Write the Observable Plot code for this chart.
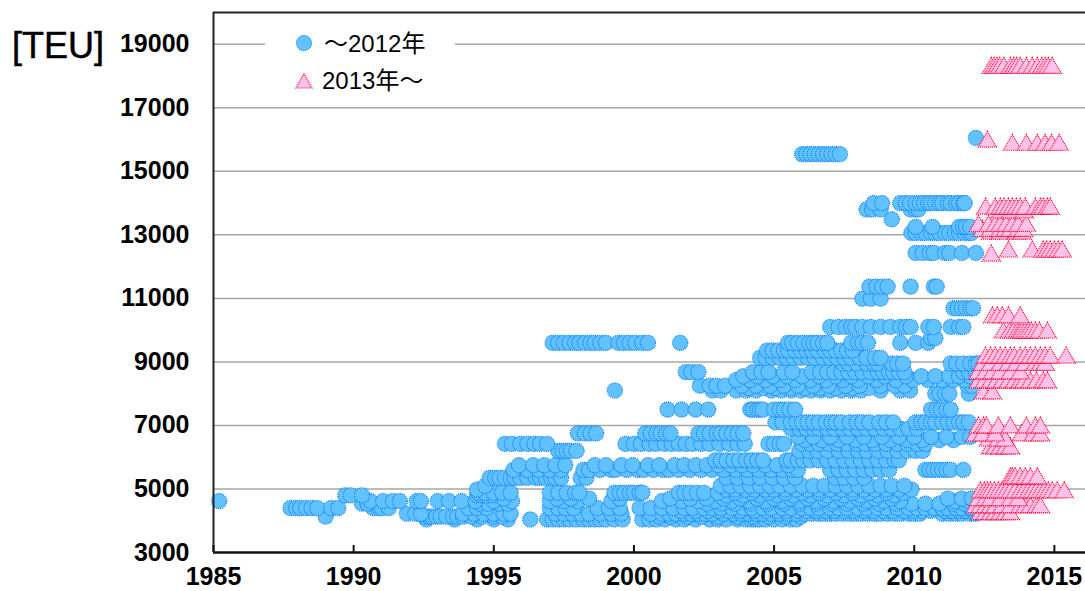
<!DOCTYPE html>
<html><head><meta charset="utf-8">
<script src="https://cdn.jsdelivr.net/npm/d3@7"></script>
<script src="https://cdn.jsdelivr.net/npm/@observablehq/plot@0.6"></script>
<style>
html,body{margin:0;padding:0;background:#fff;overflow:hidden}
#wrap{position:relative;width:1085px;height:591px;font-family:"Liberation Sans",Arial,sans-serif}
#unit{position:absolute;left:12px;top:26px;font-size:36px;line-height:40px;color:#000;-webkit-text-stroke:0.5px #000}
#legend{position:absolute;left:265px;top:28px;width:190px;height:72px;background:#fff;font-family:"Liberation Sans","Noto Sans CJK JP",sans-serif;font-size:24px;color:#000}
#legend div{position:absolute;white-space:nowrap;line-height:30px}
#legend svg{position:absolute;width:18px;height:18px}
</style></head><body>
<div id="wrap">
<div id="chart"></div>
<div id="unit">[TEU]</div>
<div id="legend">
<svg style="left:30px;top:6px"><circle cx="9" cy="9" r="7.6" fill="#62c1ff" stroke="#0a80ff" stroke-width="1.2" stroke-dasharray="1 1"/></svg>
<div style="left:59px;top:1px">〜2012年</div>
<svg style="left:30px;top:44px"><path d="M9 1.5 L17 16 L1 16 Z" fill="#ffc2e8" stroke="#ff0033" stroke-width="1.2" stroke-dasharray="1 1"/></svg>
<div style="left:57px;top:38px">2013年〜</div>
</div>
</div>
<script>
const xTicks = [1985,1990,1995,2000,2005,2010,2015];
const yTicks = [3000,5000,7000,9000,11000,13000,15000,17000,19000];

// ~2012: build year per TEU level
const c16050 = [2012.2];
const c15540 = [2006.0,2006.15,2006.3,2006.45,2006.6,2006.75,2006.9,2007.05,2007.2,2007.35];
const c14000 = [2008.55,2008.85,2009.5,2009.7,2009.85,2010.05,2010.2,2010.35,2010.5,2010.6,2010.75,2010.9,2011.0,2011.2,2011.3,2011.5,2011.6,2011.75,2011.8];
const c13800 = [2008.3,2008.5,2008.8,2009.87,2010.05,2010.15];
const c13490 = [2009.2];
const c13250 = [2010.05,2010.65,2011.6,2011.75,2011.85,2012.0];
const c13060 = [2009.9,2010.05,2010.25,2010.4,2010.6,2010.75,2010.9,2011.1,2011.25,2011.45,2011.6,2011.8,2011.95,2012.05];
const c12430 = [2010.05,2010.3,2010.55,2010.7,2011.1,2011.25,2011.7,2012.2];
const c11370 = [2008.4,2008.65,2008.85,2009.05,2009.87,2010.7,2010.8];
const c10990 = [2008.15,2008.45,2008.8];
const c10690 = [2011.4,2011.55,2011.7,2011.85,2012.0,2012.1];
const c10100 = [2007.0,2007.3,2007.55,2007.75,2007.9,2008.15,2008.45,2008.8,2009.15,2009.5,2009.7,2009.87,2010.5,2010.7,2011.3,2011.6,2011.75];
const c9750 = [2010.6,2010.75];
const c9600 = [1997.1,1997.3,1997.5,1997.7,1997.9,1998.05,1998.25,1998.45,1998.6,1998.8,1999.0,1999.45,1999.65,1999.85,2000.05,2000.3,2000.5,2001.65,2005.5,2005.65,2005.85,2006.05,2006.25,2006.4,2006.55,2006.75,2006.9,2007.75,2008.0,2008.15,2008.35,2009.5,2010.05,2010.5];
const c9360 = [2004.75,2004.95,2005.15,2005.35,2005.5,2005.75,2005.95,2006.15,2006.35,2006.55,2006.8,2007.0,2007.2,2007.4,2007.6,2007.8];
const c9130 = [2004.5,2004.7,2004.95,2005.2,2005.45,2005.7,2005.95,2006.2,2006.45,2006.75,2007,2007.25,2007.5,2007.75,2008.05,2008.3,2008.6,2008.8];
const c8950 = [2007.45,2007.65,2007.95,2008.3,2008.55,2008.7,2009.2,2009.4,2009.6,2011.3,2011.5,2011.75,2012.0,2012.2,2012.3];
const c8680 = [2001.85,2002.05,2002.3,2004.25,2004.55,2004.8,2005.35,2005.65,2006.35,2006.65,2006.9,2007.15,2007.4,2007.65,2007.9,2008.15,2008.45,2008.7,2008.9,2009.1,2009.25,2009.45,2009.65,2011.75,2011.95,2012.2];
const c8550 = [2003.9,2004.4,2004.95,2005.45,2006.0,2006.6,2007.2,2007.75,2008.35,2008.95,2009.7,2010.25,2010.75,2011.25,2011.6,2012.0];
const c8430 = [2003.65,2004.15,2004.7,2005.2,2005.75,2006.3,2006.85,2007.45,2008.0,2008.65,2009.35,2009.95,2010.5,2011.0,2011.4,2011.8];
const c8250 = [2002.35,2002.7,2002.95,2003.25,2003.85,2004.35,2004.85,2005.35,2005.85,2006.4,2006.95,2007.55,2008.05,2008.8,2009.3,2009.65,2011.9,2012.05];
const c8180 = [2004.1,2004.6,2005.05,2005.6,2006.1,2006.65,2007.2,2007.8,2008.4];
const c8100 = [1999.32,2002.8,2003.1,2003.65,2004.0,2004.35,2004.9,2005.25,2005.6,2005.95,2006.3,2006.65,2007.0,2007.4,2007.75,2008.1,2008.8,2009.5,2009.85];
const c8000 = [2010.75,2010.9,2011.1,2011.25,2011.95];
const c7500 = [2001.2,2001.7,2002.2,2002.65,2004.15,2004.25,2004.4,2004.5,2004.6,2005.0,2005.2,2005.35,2005.55,2005.75,2010.6,2010.8,2010.95,2011.15,2011.3];
const c7100 = [2005.05,2005.3,2005.6,2005.8,2006.0,2006.2,2006.4,2006.6,2006.85,2007.05,2007.2,2007.4,2007.7,2007.95,2008.15,2008.4,2008.75,2009,2009.25,2010.05,2010.25,2010.4,2010.6,2010.75,2011.0,2011.2,2011.4,2011.6,2011.75,2011.95];
const c6900 = [2005.6,2005.9,2006.15,2006.4,2006.6,2006.9,2007.15,2007.45,2007.7,2008,2008.3,2008.6,2008.9,2009.2,2009.5,2009.8,2010.1];
const c6750 = [1998.0,1998.25,1998.45,1998.65,2000.4,2000.6,2000.8,2000.95,2001.15,2001.3,2002.3,2002.5,2002.7,2002.95,2003.1,2003.3,2003.5,2003.7,2003.9];
const c6640 = [2005.85,2006.4,2007,2007.6,2008.2,2008.85,2009.45,2010,2010.6,2011.15,2011.7,2012.0];
const c6540 = [2006.1,2006.7,2007.3,2007.9,2008.5,2009.15,2009.75,2010.3,2010.9,2011.4];
const c6420 = [1995.4,1995.65,1995.95,1996.2,1996.45,1996.65,1996.9,1999.7,2000.0,2000.25,2000.55,2000.8,2001.1,2001.35,2001.6,2001.85,2002.1,2002.4,2002.7,2003.05,2003.4,2003.7,2003.95,2004.8,2005,2005.2,2005.35,2006,2006.3,2006.6,2006.95,2007.25,2007.6,2007.95,2008.25,2008.6,2009.0,2009.4,2009.75,2010.1,2010.4];
const c6200 = [1997.3,1997.45,1997.6,1997.75,1997.95,2005.9,2006.25,2006.55,2006.9,2007.3,2007.65,2008,2008.3,2008.7,2009.05,2009.4,2009.75,2010.05,2010.3];
const c5900 = [2002.9,2003.1,2003.3,2003.55,2003.75,2004.0,2004.2,2004.4,2004.6,2005.45,2005.6,2005.85,2006.05,2006.3,2006.6,2006.9,2007.2,2007.5,2007.8,2008.1,2008.4,2008.7,2009.0,2009.3,2009.45];
const c5750 = [1995.9,1996.4,1996.8,1997.2,1997.55,1998.6,1999,1999.55,1999.95,2000.5,2000.9,2001.45,2001.8,2002.2,2002.6,2003,2003.45,2003.85,2004.25,2004.7,2005.1,2005.5];
const c5600 = [1995.7,1996.2,1996.6,1997.0,1997.4,1998.2,1998.4,1998.8,1999.2,1999.35,1999.75,2000.15,2000.35,2000.7,2001.05,2001.25,2001.6,2002,2002.4,2002.8,2003.2,2003.65,2004.05,2004.45,2004.9,2005.3,2005.65,2005.85,2007,2007.3,2007.6,2007.9,2008.2,2008.5,2008.8,2009.1,2010.4,2010.55,2010.7,2010.85,2011,2011.15,2011.3,2011.75];
const c5350 = [1994.85,1995.05,1995.2,1995.4,1995.6,1995.75,1995.95,1996.2,1996.5,1996.65,1996.85,1997.05,1997.2,1997.4,1998.1,1998.3,2003.3,2003.7,2004.1,2004.5,2004.95,2005.35,2005.75,2007.2,2007.5,2007.85,2008.2];
const c5100 = [1994.7,2003.1,2003.45,2003.8,2004.15,2004.5,2004.85,2005.2,2005.6,2006,2006.4,2006.8,2007.2,2007.6,2008,2008.4,2008.8,2009.2,2009.65];
const c4980 = [1994.4,2003.3,2003.6,2004,2004.3,2004.7,2005,2005.4,2005.8,2006.2,2006.6,2007,2007.4,2007.8,2008.2,2008.6,2009.0,2009.45,2009.9];
const c4880 = [1994.45,1994.7,1995.0,1995.3,1995.6,1997.0,1997.3,1997.6,1997.9,1998.05,1999.3,1999.5,1999.65,1999.85,2000,2000.2,2000.3,2001.6,2001.8,2002,2002.25,2002.5,2003.0,2003.6,2004.2,2004.8,2005.4,2006,2006.6,2007.2,2007.8,2008.4,2009,2009.6];
const c4800 = [1989.7,1989.9,1990.3,1994.4,1994.55,1994.75,1994.95,2003.3,2003.9,2004.5,2005.1,2005.7,2006.3,2006.9,2007.5,2008.1,2008.7,2009.3];
const c4700 = [1995.35,1997.25,1997.75,1998.4,1999.5,2001.3,2002,2002.6,2003.2,2003.8,2004.4,2005,2005.6,2006.2,2006.8,2007.4,2008,2008.6,2009.2,2011.2,2011.7,2012.05];
const c4620 = [1985.2,1990.6,1991.05,1991.4,1991.65,1992.25,1992.4,1993,1993.4,1993.85,1994.35,1995.0,1995.65,1997.0,1997.5,1998.0,1999.2,2001.0,2001.7,2002.3,2002.9,2003.5,2004.1,2004.7,2005.3,2005.9,2006.5,2007.1,2007.7,2008.3,2008.9,2009.5,2011.45,2011.9];
const c4540 = [1990.3,1990.5,1994.5,1994.8,1995.2,1995.5,2002.6,2003.1,2003.6,2004.15,2004.75,2005.35,2005.9,2006.5,2007.05,2007.6,2008.2,2008.75,2009.35,2009.9,2010.4,2010.9,2011.4,2011.8];
const c4400 = [1987.75,1987.95,1988.1,1988.3,1988.5,1988.7,1989.2,1989.45,1990.7,1990.9,1991.0,1991.25,1994.1,1994.4,1994.75,1997.0,1997.3,1997.55,1997.85,1998.7,1999.1,1999.5,2000.2,2000.6,2001.0,2001.4,2001.8,2002.1,2002.5,2002.8,2003.1,2003.5,2003.9,2004.2,2004.6,2004.9,2005.3,2005.6,2006,2006.3,2006.6,2007,2007.3,2007.6,2008,2008.3,2008.7,2009,2009.4,2009.8,2010.1,2010.4,2010.7,2011,2011.2,2011.5,2011.7,2012,2012.1];
const c4310 = [2001.7,2002.2,2002.65,2003.05,2003.4,2003.8,2004.3,2004.7,2005.1,2005.45,2005.85,2006.15,2006.5,2006.85,2007.15,2007.5,2007.85,2008.2,2008.55,2008.9,2009.25,2009.65,2010,2010.3,2010.6,2011.1,2011.35,2011.6,2011.85,2012.1];
const c4220 = [1991.9,1992.2,1992.4,1993.9,1994.3,1994.65,1995.0,1995.35,1995.6,1997.2,1997.5,1997.8,1998.1,1998.4,1998.8,1999.2,1999.55,2000.6,2001.0,2001.25,2001.5,2001.8,2002.05,2002.3,2002.55,2002.8,2003.2,2003.55,2003.85,2004.1,2004.35,2004.6,2004.9,2005.2,2005.5,2005.8,2006.1,2006.35,2006.6,2006.8,2007,2007.2,2007.45,2007.7,2007.9,2008.1,2008.35,2008.6,2008.8,2009.05,2009.3,2009.5,2009.8,2010,2010.2,2011,2011.25,2011.5,2011.7,2012.0,2012.2];
const c4130 = [1989,1992.55,1992.7,1992.8,1992.95,1993.1,1993.3,1993.55,1993.7,1993.9,1994.2,1994.6,1995,1995.3,2000.9,2001.3,2001.9,2002.4,2003,2003.7,2004.25,2004.8,2005.4,2005.95];
const c4040 = [1992.6,1993.6,1994.4,1995,1995.5,1996.3,1996.9,1997.1,1997.3,1997.5,1997.7,1997.95,1998.2,1998.4,1998.6,1998.8,1999.0,1999.3,1999.6,2000.3,2000.55,2000.8,2001.1,2001.5,2001.8,2002.2,2002.7,2003.0,2003.3,2003.7,2004.0,2004.2,2004.35,2004.5,2004.7,2005.0,2005.3,2005.6,2005.8];

// 2013~: build year per TEU level
const t18250 = [2012.75,2012.85,2012.95,2013.05,2013.2,2013.43,2013.55,2013.65,2013.78,2014,2014.21,2014.39,2014.55,2014.67,2014.78,2014.92];
const t15930 = [2012.61];
const t15830 = [2013.5,2014,2014.39,2014.67,2014.9,2015.17];
const t13820 = [2012.55,2012.89,2013.07,2013.2,2013.36,2013.5,2013.64,2013.78,2013.96,2014.32,2014.5,2014.6,2014.75,2014.85];
const t13700 = [2013.07,2013.43,2013.92];
const t13280 = [2012.29,2012.65,2012.89,2013.07,2013.28,2013.5,2013.71,2014];
const t13120 = [2012.43,2012.72,2013.07,2013.25,2013.43,2013.71,2013.89];
const t13030 = [2012.72,2013.07,2013.64,2013.85];
const t12470 = [2013.36,2014.21,2014.6,2014.72,2014.85,2015,2015.14,2015.28];
const t12340 = [2012.75];
const t10400 = [2012.79,2012.96,2013.14,2013.36,2013.78];
const t9920 = [2013.18,2013.4,2013.54,2013.68,2013.78,2013.85,2013.96,2014.07,2014.18,2014.32,2014.46,2014.75];
const t9130 = [2012.54,2012.72,2012.89,2013.07,2013.25,2013.43,2013.57,2013.78,2013.96,2014.14,2014.32,2014.5,2014.67,2014.85,2015.42];
const t8900 = [2012.43,2012.72,2013.07,2013.36,2013.64,2013.96,2014.32,2014.5,2014.67];
const t8630 = [2012.29,2012.54,2012.79,2013.07,2013.43,2013.78];
const t8350 = [2012.29,2012.5,2012.72,2012.93,2013.14,2013.36,2013.57,2013.78,2013.92,2014.14,2014.36,2014.6,2014.75];
const t8000 = [2012.47,2012.79];
const t6930 = [2012.29,2012.47,2012.58,2013.0,2013.43,2014,2014.32,2014.5];
const t6680 = [2012.18,2012.43,2012.89,2013.82,2014.25,2014.5];
const t6520 = [2012.65,2013,2013.25];
const t6270 = [2012.72,2012.89,2013.07,2013.25,2013.43];
const t5330 = [2013.43,2013.5,2013.6,2013.78,2013.96,2014.14,2014.39];
const t4890 = [2012.36,2012.5,2012.61,2012.72,2012.86,2013,2013.14,2013.28,2013.43,2013.6,2013.78,2013.92,2014.07,2014.21,2014.36,2014.5,2014.64,2014.78,2014.92,2015.1,2015.35];
const t4640 = [2012.29,2012.54,2012.72,2013.07,2013.43,2013.71];
const t4420 = [2012.18,2012.36,2012.54,2012.72,2012.89,2013.14,2013.43,2013.78,2013.96,2014.14,2014.36,2014.5];
const t4200 = [2012.36,2012.54,2012.72,2012.89,2013.07,2013.25,2013.43];

const rows2012 = [[4040,c4040],[4130,c4130],[4220,c4220],[4310,c4310],[4400,c4400],[4540,c4540],[4620,c4620],[4700,c4700],[4800,c4800],[4880,c4880],[4980,c4980],[5100,c5100],[5350,c5350],[5600,c5600],[5750,c5750],[5900,c5900],[6200,c6200],[6420,c6420],[6540,c6540],[6640,c6640],[6750,c6750],[6900,c6900],[7100,c7100],[7500,c7500],[8000,c8000],[8100,c8100],[8180,c8180],[8250,c8250],[8430,c8430],[8550,c8550],[8680,c8680],[8950,c8950],[9130,c9130],[9360,c9360],[9600,c9600],[9750,c9750],[10100,c10100],[10690,c10690],[10990,c10990],[11370,c11370],[12430,c12430],[13060,c13060],[13250,c13250],[13490,c13490],[13800,c13800],[14000,c14000],[15540,c15540],[16050,c16050]];
const rows2013 = [[4200,t4200],[4420,t4420],[4640,t4640],[4890,t4890],[5330,t5330],[6270,t6270],[6520,t6520],[6680,t6680],[6930,t6930],[8000,t8000],[8350,t8350],[8630,t8630],[8900,t8900],[9130,t9130],[9920,t9920],[10400,t10400],[12340,t12340],[12470,t12470],[13030,t13030],[13120,t13120],[13280,t13280],[13700,t13700],[13820,t13820],[15830,t15830],[15930,t15930],[18250,t18250]];
const flat = rows => rows.flatMap(([teu, years]) => years.map(year => ({year, teu})));

const chart = Plot.plot({
  width: 1085, height: 591,
  marginLeft: 213, marginRight: 0, marginTop: 12, marginBottom: 39,
  style: {fontFamily: '"Liberation Sans",Arial,sans-serif', background: "#fff", overflow: "visible"},
  x: {domain: [1985, 2016.11], label: null},
  y: {domain: [3000, 20000], label: null},
  marks: [
    Plot.ruleY(yTicks.slice(1), {stroke: "#a6a6a6", strokeWidth: 1.5}),
    Plot.dot(flat(rows2012), {x: "year", y: "teu", r: 7.6, fill: "#62c1ff", stroke: "#0a80ff", strokeWidth: 1.2, strokeDasharray: "1 1"}),
    Plot.dot(flat(rows2013), {x: "year", y: "teu", r: 6.8, symbol: "triangle", fill: "#ffc2e8", stroke: "#ff0033", strokeWidth: 1.2, strokeDasharray: "1 1"}),
    Plot.ruleY([20000], {stroke: "#222", strokeWidth: 2}),
    Plot.ruleX([1985], {stroke: "#222", strokeWidth: 2}),
    Plot.ruleY([3000], {stroke: "#111", strokeWidth: 2.5}),
    Plot.axisX({ticks: xTicks, tickFormat: d => String(d), tickSize: -7, tickPadding: 22, fontSize: 25, fontWeight: "bold", stroke: "#111", strokeWidth: 2, color: "#000", label: null}),
    Plot.axisY({ticks: yTicks, tickFormat: d => String(d), tickSize: 0, tickPadding: 24, fontSize: 25, fontWeight: "bold", color: "#000", label: null})
  ]
});
document.getElementById("chart").appendChild(chart);
</script>
</body></html>
